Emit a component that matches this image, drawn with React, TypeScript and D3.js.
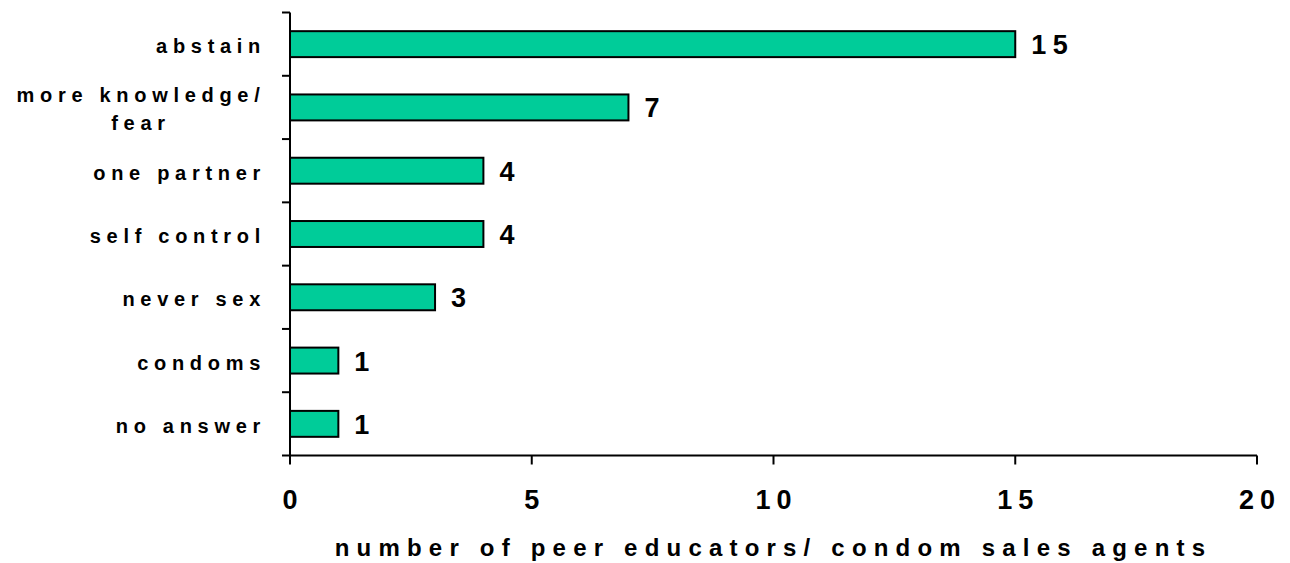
import * as d3 from 'd3'
import React from 'react'

const categories = ['abstain', 'more knowledge/\nfear', 'one partner', 'self control', 'never sex', 'condoms', 'no answer']
const counts = [15, 7, 4, 4, 3, 1, 1]
const xTicks = [0, 5, 10, 15, 20]
const xTitle = 'number of peer educators/ condom sales agents'

const W = 1290
const H = 563
const left = 290
const right = 1257
const top = 12.5
const bottom = 455.5
const font = '"Liberation Sans", Arial, Helvetica, sans-serif'

const App = () => {
  const x = d3.scaleLinear().domain([0, 20]).range([left, right])

  // band scale for ticks/labels, padded one for the bars
  const yBand = d3.scaleBand().domain(categories).range([top, bottom]).padding(0)
  const yBar = d3.scaleBand().domain(categories).range([top, bottom]).paddingInner(0.59).paddingOuter(0.295)

  const tickYs = [...categories.map((c) => yBand(c)), bottom]

  return (
    <svg width={W} height={H} style={{ position: 'absolute', left: 0, top: 0, background: '#fff' }}>
      {/* bars */}
      {categories.map((c, i) => (
        <rect
          key={c}
          x={x(0)}
          y={yBar(c)}
          width={x(counts[i]) - x(0)}
          height={yBar.bandwidth()}
          fill="#00cc99"
          stroke="#000"
          strokeWidth={2}
        />
      ))}

      {/* value labels */}
      {categories.map((c, i) => (
        <text
          key={'v' + c}
          x={x(counts[i]) + 16}
          y={yBar(c) + yBar.bandwidth() / 2 + 10}
          fontFamily={font}
          fontWeight="bold"
          fontSize={27}
          letterSpacing={6.5}
          fill="#000"
        >
          {counts[i]}
        </text>
      ))}

      {/* y axis */}
      <line x1={left} x2={left} y1={top} y2={bottom} stroke="#000" strokeWidth={2} />
      {tickYs.map((t, i) => (
        <line key={'yt' + i} x1={left - 8} x2={left} y1={t} y2={t} stroke="#000" strokeWidth={2} />
      ))}

      {/* category labels */}
      {categories.map((c) => {
        const cy = yBand(c) + yBand.bandwidth() / 2
        const lines = c.split('\n')
        if (lines.length === 1) {
          return (
            <text
              key={'l' + c}
              x={266}
              y={cy + 9}
              textAnchor="end"
              fontFamily={font}
              fontWeight="bold"
              fontSize={20}
              letterSpacing={5.7}
              fill="#000"
            >
              {c}
            </text>
          )
        }
        return (
          <text
            key={'l' + c}
            textAnchor="middle"
            fontFamily={font}
            fontWeight="bold"
            fontSize={20}
            letterSpacing={5.7}
            fill="#000"
          >
            {lines.map((ln, j) => (
              <tspan key={j} x={141} y={cy - 5.5 + j * 28.5}>
                {ln}
              </tspan>
            ))}
          </text>
        )
      })}

      {/* x axis */}
      <line x1={left} x2={right} y1={bottom} y2={bottom} stroke="#000" strokeWidth={2} />
      {xTicks.map((t) => (
        <g key={'xt' + t}>
          <line x1={x(t)} x2={x(t)} y1={bottom} y2={bottom + 9} stroke="#000" strokeWidth={2} />
          <text
            x={x(t) + 3}
            y={509}
            textAnchor="middle"
            fontFamily={font}
            fontWeight="bold"
            fontSize={27}
            letterSpacing={6}
            fill="#000"
          >
            {t}
          </text>
        </g>
      ))}

      <text
        x={(left + right) / 2}
        y={556}
        textAnchor="middle"
        fontFamily={font}
        fontWeight="bold"
        fontSize={24}
        letterSpacing={7.2}
        fill="#000"
      >
        {xTitle}
      </text>
    </svg>
  )
}

export default App
